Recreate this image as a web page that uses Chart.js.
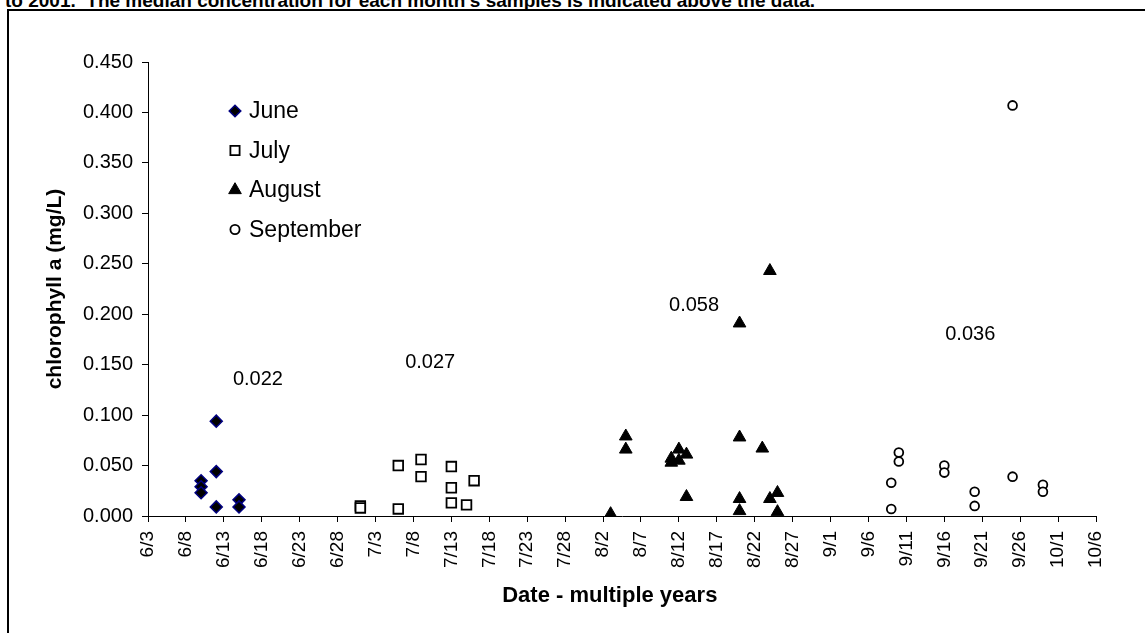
<!DOCTYPE html>
<html>
<head>
<meta charset="utf-8">
<script src="https://cdn.jsdelivr.net/npm/chart.js@4/dist/chart.umd.min.js"></script>
<style>
  html, body { margin: 0; padding: 0; background: #fff; overflow: hidden; }
  body { width: 1145px; height: 633px; position: relative; font-family: Arial, "Liberation Sans", sans-serif; }
  #caption {
    position: absolute; left: 5px; top: -9px; white-space: nowrap;
    font-size: 19px; line-height: 19px; font-weight: bold; color: #000;
  }
  #frame {
    position: absolute; left: 7px; top: 9px; width: 1300px; height: 800px;
    border: 2px solid #000;
  }
  #chart { position: absolute; left: 0; top: 0; }
</style>
</head>
<body>
<div id="caption">to 2001.&nbsp; The median concentration for each month's samples is indicated above the data.</div>
<div id="frame"></div>
<canvas id="chart" width="1145" height="633"></canvas>
<script>
// =====================
// Data (dates are M/D, all years pooled)
// =====================
const juneDates = ["6/10", "6/10", "6/10", "6/12", "6/12", "6/12", "6/15", "6/15"]
const juneValues = [0.035, 0.029, 0.023, 0.094, 0.044, 0.009, 0.016, 0.009]

const julyDates = ["7/1", "7/1", "7/6", "7/6", "7/9", "7/9", "7/13", "7/13", "7/13", "7/15", "7/16"]
const julyValues = [0.010, 0.008, 0.050, 0.007, 0.056, 0.039, 0.049, 0.028, 0.013, 0.011, 0.035]

const augustDates = ["8/3", "8/5", "8/5", "8/11", "8/11", "8/12", "8/12", "8/13", "8/13",
  "8/20", "8/20", "8/20", "8/20", "8/23", "8/24", "8/24", "8/25", "8/25"]
const augustValues = [0.002, 0.079, 0.066, 0.053, 0.057, 0.066, 0.055, 0.061, 0.019,
  0.191, 0.078, 0.017, 0.005, 0.067, 0.243, 0.017, 0.023, 0.004]

const septemberDates = ["9/9", "9/9", "9/10", "9/10", "9/16", "9/16", "9/20", "9/20", "9/25", "9/25", "9/29", "9/29"]
const septemberValues = [0.033, 0.007, 0.063, 0.054, 0.050, 0.043, 0.024, 0.010, 0.407, 0.039, 0.031, 0.024]

const monthNames = ["June", "July", "August", "September"]
const medianTexts = ["0.022", "0.027", "0.058", "0.036"]
// where each median is written, in chart units (date, mg/L)
const medianDates = ["6/17.5", "7/10.2", "8/14", "9/19.4"]
const medianHeights = [0.135, 0.152, 0.209, 0.180]

const startDate = new Date(2001, 5, 3)
const endDay = 125
const dayStep = 5


// =====================
// Helpers
// =====================
function toDay(md) {
  const [m, d] = md.split("/").map(Number)
  const t = new Date(2001, m - 1, 1).getTime() + (d - 1) * 86400000
  return Math.round((t - startDate.getTime()) / 3600000) / 24
}

function dayLabel(day) {
  const dt = new Date(startDate.getTime() + day * 86400000)
  return (dt.getMonth() + 1) + "/" + dt.getDate()
}

function points(dates, values) {
  return dates.map((d, i) => ({ x: toDay(d), y: values[i] }))
}


// =====================
// Plugins: legend inside plot + median labels
// =====================
const insideLegend = {
  id: "insideLegend",
  afterDraw(chart) {
    const ctx = chart.ctx
    const area = chart.chartArea
    ctx.save()
    ctx.font = "23px Arial, 'Liberation Sans', sans-serif"
    ctx.textBaseline = "middle"
    chart.data.datasets.forEach((ds, i) => {
      const x = area.left + 87
      const y = area.top + 49 + i * 39.5
      ctx.fillStyle = ds.backgroundColor
      ctx.strokeStyle = ds.borderColor
      ctx.lineWidth = ds.borderWidth
      Chart.helpers.drawPoint(ctx, {
        pointStyle: ds.pointStyle,
        radius: ds.legendRadius,
        rotation: 0,
        borderWidth: ds.borderWidth
      }, x, y)
      ctx.fillStyle = "#000"
      ctx.fillText(ds.label, x + 14, y + 1)
    })
    ctx.restore()
  }
}

const medianLabels = {
  id: "medianLabels",
  afterDraw(chart) {
    const ctx = chart.ctx
    const xs = chart.scales.x
    const ys = chart.scales.y
    ctx.save()
    ctx.font = "20px Arial, 'Liberation Sans', sans-serif"
    ctx.textAlign = "center"
    ctx.textBaseline = "middle"
    ctx.fillStyle = "#000"
    medianTexts.forEach((t, i) => {
      ctx.fillText(t, xs.getPixelForValue(toDay(medianDates[i])), ys.getPixelForValue(medianHeights[i]))
    })
    ctx.restore()
  }
}


// =====================
// Build chart
// =====================
Chart.defaults.font.family = "Arial, 'Liberation Sans', sans-serif"
Chart.defaults.color = "#000"

const chart = new Chart(document.getElementById("chart"), {
  type: "scatter",
  data: {
    datasets: [
      {
        label: monthNames[0],
        data: points(juneDates, juneValues),
        pointStyle: "rectRot",
        pointRadius: 6,
        legendRadius: 5.8,
        backgroundColor: "#000",
        borderColor: "#000080",
        borderWidth: 1.5
      },
      {
        label: monthNames[1],
        data: points(julyDates, julyValues),
        pointStyle: "rect",
        pointRadius: 6.8,
        legendRadius: 6.5,
        backgroundColor: "#fff",
        borderColor: "#000",
        borderWidth: 1.8
      },
      {
        label: monthNames[2],
        data: points(augustDates, augustValues),
        pointStyle: "triangle",
        pointRadius: 7.3,
        legendRadius: 7.3,
        backgroundColor: "#000",
        borderColor: "#000",
        borderWidth: 1
      },
      {
        label: monthNames[3],
        data: points(septemberDates, septemberValues),
        pointStyle: "circle",
        pointRadius: 4.4,
        legendRadius: 4.6,
        backgroundColor: "#fff",
        borderColor: "#000",
        borderWidth: 1.8
      }
    ]
  },
  options: {
    responsive: false,
    animation: false,
    layout: {
      padding: { left: 0, top: 62, right: 49, bottom: 0 }
    },
    plugins: {
      legend: { display: false },
      tooltip: { enabled: false }
    },
    elements: {
      point: { hoverRadius: 6 }
    },
    scales: {
      x: {
        type: "linear",
        min: 0,
        max: endDay,
        afterFit: s => { s.height = 117 },
        border: { display: true, color: "#000", width: 1 },
        grid: { drawOnChartArea: false, drawTicks: true, tickLength: 6, color: "#000" },
        ticks: {
          stepSize: dayStep,
          autoSkip: false,
          maxRotation: 90,
          minRotation: 90,
          padding: 9,
          font: { size: 19 },
          callback: v => dayLabel(v)
        },
        title: {
          display: true,
          text: "Date - multiple years\u00a0\u00a0\u00a0\u00a0",
          font: { size: 22, weight: "bold" },
          padding: { top: 0, bottom: 24 }
        }
      },
      y: {
        min: 0,
        max: 0.45,
        afterFit: s => { s.width = 148 },
        border: { display: true, color: "#000", width: 1 },
        grid: { drawOnChartArea: false, drawTicks: true, tickLength: 6, color: "#000" },
        ticks: {
          stepSize: 0.05,
          padding: 9,
          font: { size: 20 },
          callback: v => v.toFixed(3)
        },
        title: {
          display: true,
          text: "chlorophyll a (mg/L)",
          font: { size: 21, weight: "bold" },
          padding: { top: 43, bottom: 0 }
        }
      }
    }
  },
  plugins: [insideLegend, medianLabels]
})
</script>
</body>
</html>
